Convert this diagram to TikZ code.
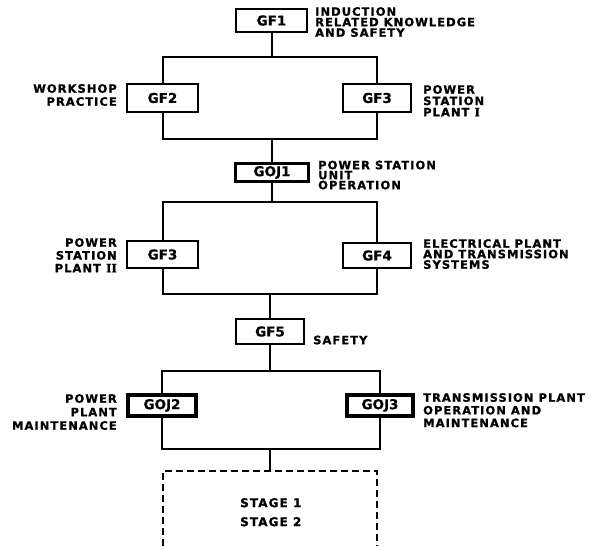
\documentclass[tikz,border=0pt]{standalone}
\usepackage{fontspec}
\setmainfont{DejaVu Sans}
\newfontfamily\lblfont[LetterSpace=9, FakeBold=1]{DejaVu Sans}
\newfontfamily\boxfont[FakeBold=0.8]{DejaVu Sans}
\newfontfamily\numfont[FakeBold=1]{DejaVu Serif}

\tikzset{
    gbox/.style = {draw, line width = 2pt, minimum width = 70pt, minimum height = 26pt,
        inner sep = 0pt, font = \boxfont\bfseries\fontsize{13.5}{15}\selectfont},
    gojbox/.style = {gbox, line width = 3.8pt, minimum width = 67pt, minimum height = 21pt},
    lbl/.style = {inner sep = 0pt, align = left, anchor = north west,
        font = \lblfont\bfseries\fontsize{11.5}{#1}\selectfont},
    lbl/.default = 10.5pt,
    lblr/.style = {lbl = #1, align = right, anchor = north east},
    lblr/.default = 13pt,
    link/.style = {line width = 2pt},
    stagebox/.style = {line width = 2pt, dash pattern = on 7pt off 4pt}
}

\begin{document}
\begin{tikzpicture}[x = 1pt, y = -1pt]
    \useasboundingbox (0, 0) rectangle (589, 546);

    % boxes
    \node [gbox, minimum width = 71pt, minimum height = 23.5pt] (gf1) at (271.5, 20.5) {GF1};
    \node [gbox, minimum width = 71pt, minimum height = 28pt] (gf2) at (162.5, 98) {GF2};
    \node [gbox, minimum width = 68pt, minimum height = 28pt] (gf3a) at (377, 98) {GF3};
    \node [gojbox, minimum width = 73pt, minimum height = 18pt] (goj1) at (272, 172.5) {GOJ1};
    \node [gbox, minimum width = 71pt, minimum height = 27pt] (gf3b) at (162.5, 254.5) {GF3};
    \node [gbox, minimum width = 68pt, minimum height = 25pt] (gf4) at (377, 255.5) {GF4};
    \node [gbox, minimum width = 68pt, minimum height = 25pt] (gf5) at (270, 331.5) {GF5};
    \node [gojbox, minimum width = 68pt] (goj2) at (162, 405.5) {GOJ2};
    \node [gojbox, minimum width = 66pt] (goj3) at (380, 405.5) {GOJ3};

    % labels
    \node [lbl] (l1) at (315, 7) {INDUCTION\\RELATED KNOWLEDGE\\AND SAFETY};
    \node [lblr] (l2) at (117, 84) {WORKSHOP\\PRACTICE};
    \node [lbl = 11.3pt] (l3) at (423, 85) {POWER\\STATION\\PLANT {\numfont I}};
    \node [lbl = 10pt] (l4) at (318, 160.5) {POWER STATION\\UNIT\\OPERATION};
    \node [lblr = 12.8pt] (l5) at (117, 238) {POWER\\STATION\\PLANT {\numfont II}};
    \node [lbl] (l6) at (423, 239) {ELECTRICAL PLANT\\AND TRANSMISSION\\SYSTEMS};
    \node [lbl] (l7) at (313, 335.5) {SAFETY};
    \node [lblr = 13.5pt] (l8) at (117, 394) {POWER\\PLANT\\MAINTENANCE};
    \node [lbl = 12.7pt] (l9) at (423, 393) {TRANSMISSION PLANT\\OPERATION AND\\MAINTENANCE};
    \node [lbl, font = \lblfont\bfseries\fontsize{12}{19}\selectfont] (stages) at (240, 498)
        {STAGE 1\\STAGE 2};

    % junctions
    \coordinate (j1) at (271.5, 57);
    \coordinate (j2) at (272, 139);
    \coordinate (j3) at (272, 202);
    \coordinate (j4) at (270, 294);
    \coordinate (j5) at (270, 371);
    \coordinate (j6) at (270, 449);
    \coordinate (st) at (270, 471);
    \coordinate (stl) at (163, 471);
    \coordinate (str) at (377, 471);

    \draw [link] (gf1) -- (j1);
    \draw [link] (gf2) |- (j1) -| (gf3a);
    \draw [link] (gf2) |- (j2) -| (gf3a);
    \draw [link] (j2) -- (goj1);
    \draw [link] (goj1) -- (j3);
    \draw [link] (gf3b) |- (j3) -| (gf4);
    \draw [link] (gf3b) |- (j4) -| (gf4);
    \draw [link] (j4) -- (gf5);
    \draw [link] (gf5) -- (j5);
    \draw [link] (goj2) |- (j5) -| (goj3);
    \draw [link] (goj2) |- (j6) -| (goj3);
    \draw [link] (j6) -- (st);

    % stage box, open at the bottom
    \draw [stagebox] (163, 546) -- (stl) -- (str) -- (377, 546);
\end{tikzpicture}
\end{document}
